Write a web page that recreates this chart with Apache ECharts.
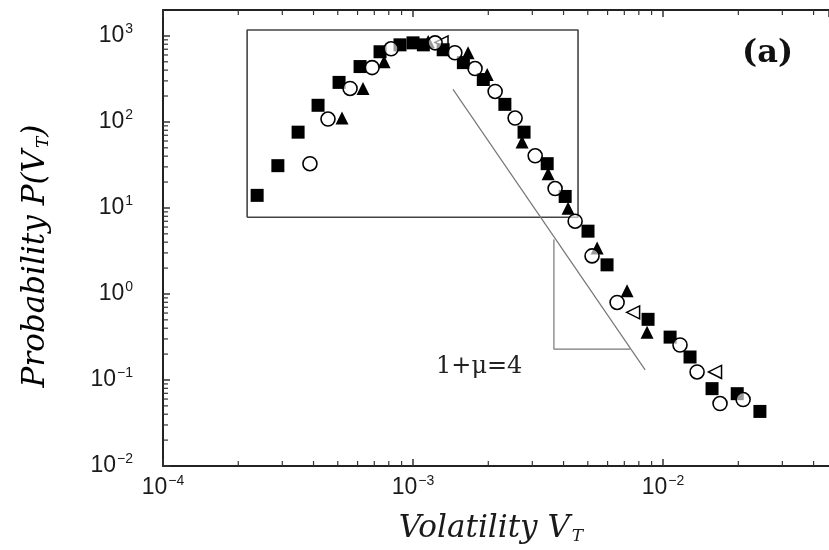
<!DOCTYPE html>
<html>
<head>
<meta charset="utf-8">
<script src="https://cdn.jsdelivr.net/npm/echarts@6/dist/echarts.min.js"></script>
<style>html,body{margin:0;padding:0;background:#fff;}#c{width:829px;height:550px;}</style>
</head>
<body>
<div id="c"></div>
<script>
// Axis ranges
const xMin = 1e-4, xMax = 0.0461, yMin = 0.01, yMax = 2000;

// Filled squares
const squaresX = [2.38e-4, 2.88e-4, 3.47e-4, 4.17e-4, 5.06e-4, 6.14e-4, 7.38e-4, 8.87e-4, 1.00e-3, 1.10e-3, 1.32e-3, 1.59e-3, 1.91e-3, 2.33e-3, 2.78e-3, 3.44e-3, 4.06e-3, 5.01e-3, 5.97e-3, 8.71e-3, 1.067e-2, 1.282e-2, 1.57e-2, 1.98e-2, 2.44e-2];
const squaresY = [14, 31, 76, 156, 288, 440, 654, 787, 830, 787, 690, 489, 311, 160, 76, 32.7, 13.6, 5.37, 2.18, 0.507, 0.315, 0.185, 0.0793, 0.0693, 0.0431];
// Open circles
const circlesX = [3.87e-4, 4.57e-4, 5.60e-4, 6.86e-4, 8.17e-4, 1.225e-3, 1.47e-3, 1.77e-3, 2.13e-3, 2.56e-3, 3.08e-3, 3.70e-3, 4.45e-3, 5.20e-3, 6.55e-3, 1.169e-2, 1.368e-2, 1.69e-2, 2.09e-2];
const circlesY = [32.7, 108, 245, 428, 708, 830, 637, 417, 226, 111, 40.4, 16.8, 7.01, 2.77, 0.796, 0.255, 0.124, 0.0532, 0.0592];
// Filled triangles
const trisX = [5.2e-4, 6.31e-4, 7.66e-4, 1.15e-3, 1.66e-3, 1.98e-3, 2.73e-3, 3.47e-3, 4.17e-3, 5.45e-3, 7.18e-3, 8.63e-3];
const trisY = [111, 245, 501, 860, 637, 355, 58.5, 25, 9.9, 3.42, 1.09, 0.359];
// Open triangles
const openTrisX = [1.3e-3, 7.59e-3, 1.614e-2];
const openTrisY = [840, 0.611, 0.124];

// Annotations
const boxX = [2.17e-4, 4.57e-3];
const boxY = [7.8, 1170];
const slopeX = [1.445e-3, 8.48e-3];
const slopeY = [239, 0.131];
const triangleX = [3.66e-3, 3.66e-3, 7.38e-3];
const triangleY = [4.3, 0.229, 0.229];

// Tick values
const minorXTicks = [];
[1e-4, 1e-3, 1e-2].forEach(d => { for (let k = 2; k <= 9; k++) { const v = k * d; if (v < xMax) minorXTicks.push(v); } });
const minorYTicks = [];
[1e-2, 1e-1, 1, 10, 100].forEach(d => { for (let k = 2; k <= 9; k++) minorYTicks.push(k * d); });

const zip = (xs, ys) => xs.map((x, i) => [x, ys[i]]);

function powLabel(v) {
  const l = Math.log10(v);
  const e = Math.round(l);
  if (Math.abs(l - e) > 1e-6) return '';
  return '{b|10}{s|' + (e < 0 ? '\u2212' + (-e) : e) + '}';
}
const labelRich = {
  b: { fontFamily: 'Liberation Sans', fontSize: 23, color: '#1a1a1a' },
  s: { fontFamily: 'Liberation Sans', fontSize: 14, color: '#1a1a1a', padding: [0, 0, 14, 1] }
};
const nameRich = {
  i: { fontFamily: 'DejaVu Serif', fontStyle: 'italic', fontSize: 31, color: '#1a1a1a' },
  sub: { fontFamily: 'DejaVu Serif', fontStyle: 'italic', fontSize: 17, color: '#1a1a1a', padding: [16, 0, 0, 2] }
};

const chart = echarts.init(document.getElementById('c'), null, { renderer: 'canvas' });
const tickStyle = { color: '#333', opacity: 1 };
const option = {
  animation: false,
  backgroundColor: '#fff',
  grid: { left: 163, top: 10, right: 0, bottom: 80, containLabel: false },
  xAxis: [{
    type: 'log', min: xMin, max: xMax, position: 'bottom',
    axisLine: { lineStyle: { color: '#222', width: 2 } },
    axisTick: { inside: true, length: 7, lineStyle: { color: '#333', width: 1.5 } },
    splitLine: { show: false },
    axisLabel: { formatter: powLabel, rich: labelRich, margin: 8, showMaxLabel: false },
    name: '{i|Volatility V}{sub|T}', nameLocation: 'middle', nameGap: 46,
    nameTextStyle: { rich: nameRich, padding: [0, 10, 0, 0] }
  }, {
    type: 'log', min: xMin, max: xMax, position: 'top',
    axisLine: { lineStyle: { color: '#222', width: 2 } },
    axisTick: { inside: true, length: 7, lineStyle: { color: '#333', width: 1.5 } },
    axisLabel: { show: false }, splitLine: { show: false }
  }],
  yAxis: [{
    type: 'log', min: yMin, max: yMax,
    axisLine: { lineStyle: { color: '#222', width: 2 } },
    axisTick: { inside: true, length: 7, lineStyle: { color: '#333', width: 1.5 } },
    splitLine: { show: false },
    axisLabel: { formatter: powLabel, rich: labelRich, margin: 30, showMaxLabel: false }
  }],
  graphic: [
    { type: 'text', x: 36, y: 256, rotation: Math.PI / 2,
      style: { text: '{i|Probability P(V}{sub|T}{i|)}', rich: nameRich, align: 'center', verticalAlign: 'middle' } },
    { type: 'text', left: 742, top: 38, style: { text: '(a)', font: 'bold 32px "DejaVu Serif"', fill: '#111' } },
    { type: 'text', left: 436, top: 355, style: { text: '1+\u03bc=4', font: '24px "DejaVu Serif"', fill: '#222' } }
  ],
  series: [
    { type: 'scatter', data: minorXTicks.map(v => [v, yMin]), symbol: 'rect', symbolSize: [1.2, 5], symbolOffset: [0, -2.5], itemStyle: tickStyle, silent: true, z: 1 },
    { type: 'scatter', data: minorXTicks.map(v => [v, yMax]), symbol: 'rect', symbolSize: [1.2, 5], symbolOffset: [0, 2.5], itemStyle: tickStyle, silent: true, z: 1 },
    { type: 'scatter', data: minorYTicks.map(v => [xMin, v]), symbol: 'rect', symbolSize: [5, 1.2], symbolOffset: [2.5, 0], itemStyle: tickStyle, silent: true, z: 1 },
    { type: 'line', data: [[boxX[0], boxY[0]], [boxX[0], boxY[1]], [boxX[1], boxY[1]], [boxX[1], boxY[0]], [boxX[0], boxY[0]]], symbol: 'none', lineStyle: { color: '#444', width: 1.6 }, silent: true, z: 2 },
    { type: 'line', data: zip(slopeX, slopeY), symbol: 'none', lineStyle: { color: '#777', width: 1.2 }, silent: true, z: 2 },
    { type: 'line', data: zip(triangleX, triangleY), symbol: 'none', lineStyle: { color: '#777', width: 1.2 }, silent: true, z: 2 },
    { type: 'scatter', data: zip(squaresX, squaresY), symbol: 'rect', symbolSize: 13, itemStyle: { color: '#000', opacity: 1 }, z: 3 },
    { type: 'scatter', data: zip(trisX, trisY), symbol: 'triangle', symbolSize: 13, itemStyle: { color: '#000', opacity: 1 }, z: 4 },
    { type: 'scatter', data: zip(openTrisX, openTrisY), symbol: 'triangle', symbolRotate: 90, symbolSize: 13, itemStyle: { color: 'rgba(255,255,255,0)', borderColor: '#000', borderWidth: 1.5, opacity: 1 }, z: 4 },
    { type: 'scatter', data: zip(circlesX, circlesY), symbol: 'circle', symbolSize: 14, itemStyle: { color: 'rgba(255,255,255,0.6)', borderColor: '#000', borderWidth: 1.6, opacity: 1 }, z: 5 }
  ]
};
chart.setOption(option);
</script>
</body>
</html>
